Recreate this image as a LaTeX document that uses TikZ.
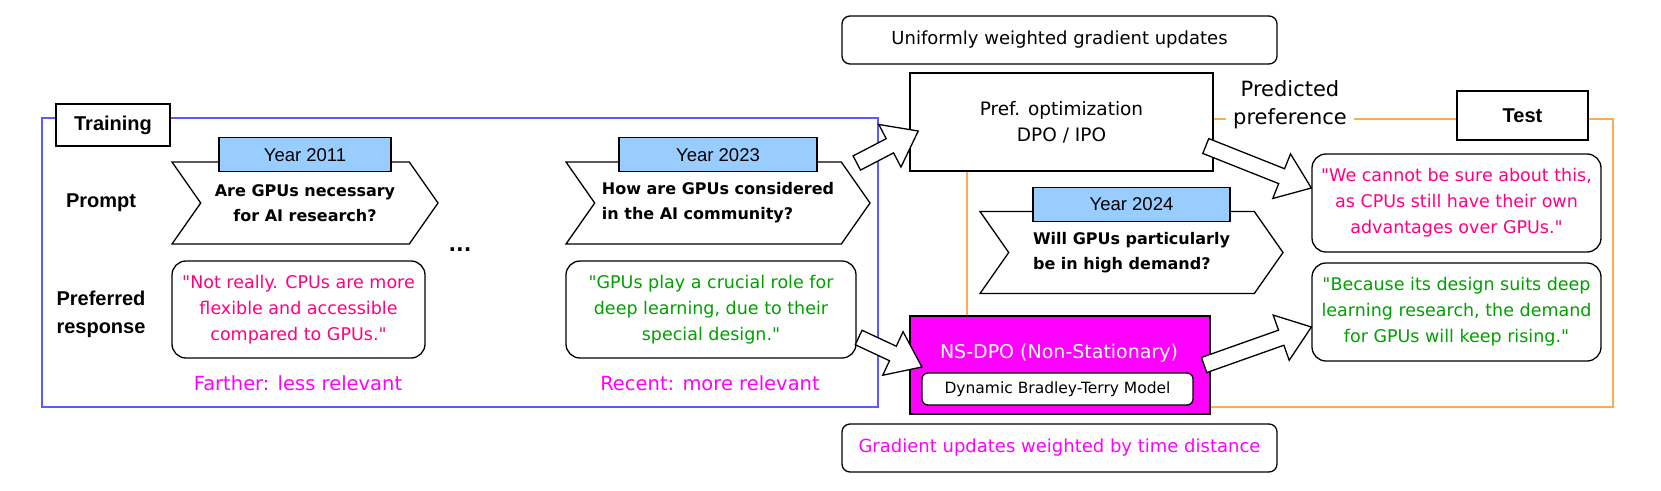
\documentclass[tikz,border=0pt]{standalone}
\usepackage{fontspec}
\setmainfont{DejaVu Sans}
\newfontfamily\headfont{Liberation Sans}
\usetikzlibrary{shapes.symbols,positioning,calc}
\definecolor{tagblue}{RGB}{153,204,255}
\definecolor{frameblue}{RGB}{90,90,255}
\definecolor{lineorange}{RGB}{255,170,80}
\definecolor{respink}{RGB}{255,0,128}
\definecolor{resgreen}{RGB}{0,160,0}
\definecolor{nsmagenta}{RGB}{255,0,255}
\tikzset{
  headtext/.style={font=\headfont\bfseries\fontsize{20}{28}\selectfont, align=center},
  headbox/.style={headtext, draw, fill=white, line width=1.3pt, inner sep=0pt},
  yeartag/.style={draw, fill=tagblue, line width=1.3pt, inner sep=0pt, minimum height=34pt,
    font=\headfont\fontsize{18.5}{22}\selectfont},
  chevron/.style={signal, signal from=west, signal to=east, signal pointer angle=110,
    draw, fill=white, line width=1.3pt, minimum height=82pt, inner xsep=3pt,
    font=\bfseries\fontsize{16}{25}\selectfont},
  answer/.style={draw, fill=white, rounded corners=14pt, line width=1.3pt, inner sep=0pt,
    minimum height=97pt, align=center, font=\fontsize{17.5}{26}\selectfont},
  plainbox/.style={draw, fill=white, line width=1.5pt, minimum width=303pt, minimum height=98pt,
    align=center, font=\fontsize{18.5}{26}\selectfont},
  notebox/.style={draw, fill=white, rounded corners=8pt, line width=1.3pt, minimum width=435pt,
    minimum height=48pt, font=\fontsize{18}{22}\selectfont},
  relevance/.style={text=nsmagenta, font=\fontsize{19.5}{24}\selectfont},
  hollow/.style={draw, fill=white, line width=1.3pt, line join=miter}
}
\newcommand{\qq}{\textquotedbl}
% block arrow from #1 to #2
\newcommand{\hollowarrow}[2]{%
  \coordinate (ha-b) at ($(#2)!32pt!(#1)$);
  \draw[hollow] ($(#1)!8pt!90:(#2)$) -- ($(ha-b)!8pt!90:(#2)$) -- ($(ha-b)!24pt!90:(#2)$)
    -- (#2) -- ($(ha-b)!24pt!-90:(#2)$) -- ($(ha-b)!8pt!-90:(#2)$) -- ($(#1)!8pt!-90:(#2)$) -- cycle;}
\begin{document}
\begin{tikzpicture}[x=1pt,y=-1pt]
\useasboundingbox (0,0) rectangle (1661,490);
% frames
\draw[frameblue, line width=1.5pt] (42,118) rectangle (878,407);
\draw[lineorange, line width=1.3pt] (967,119) rectangle (1613,407);

% training side
\node[headbox, minimum width=114pt, minimum height=42pt] (train) at (113,125) {Training};
\node[headtext] (prompt) at (101,203) {Prompt};
\node[headtext] (preferred) at (101,314) {Preferred\\response};

\node[chevron, minimum width=266pt, align=center] (c1) at (305,203) {Are GPUs necessary\\for AI research?};
\node[yeartag, minimum width=172pt, above=-11pt of c1] (y1) {Year 2011};
\node[answer, minimum width=253pt, text=respink] (r1) at (298.5,309.5)
  {\qq Not really. CPUs are more\\flexible and accessible\\compared to GPUs.\qq};
\node[relevance] (far) at (298,383) {Farther: less relevant};

\node[font=\bfseries\fontsize{20}{20}\selectfont] (dots) at (460,250) {...};

\node[chevron, minimum width=304pt, align=left] (c2) at (718,203) {How are GPUs considered\\in the AI community?};
\node[yeartag, minimum width=198pt, above=-11pt of c2] (y2) {Year 2023};
\node[answer, minimum width=290pt, text=resgreen] (r2) at (711,309.5)
  {\qq GPUs play a crucial role for\\deep learning, due to their\\special design.\qq};
\node[relevance] (recent) at (710,383) {Recent: more relevant};

% optimisation
\node[notebox] (unif) at (1059.5,40) {Uniformly weighted gradient updates};
\node[plainbox] (popt) at (1061.5,122) {Pref. optimization\\DPO / IPO};
\node[chevron, minimum width=303pt, align=left] (c3) at (1131.5,252.5) {Will GPUs particularly\\be in high demand?};
\node[yeartag, minimum width=197pt, above=-11pt of c3] (y3) {Year 2024};
\node[plainbox, fill=nsmagenta, line width=2.2pt, minimum width=300pt] (nsdpo) at (1060,365) {};
\node[text=white, font=\fontsize{19}{22}\selectfont] (nstitle) at (1059,353) {NS-DPO (Non-Stationary)};
\node[draw, fill=white, rounded corners=6pt, line width=1.3pt, minimum width=271pt, minimum height=32pt,
  font=\fontsize{15.5}{18}\selectfont] (dbt) at (1057.5,389) {Dynamic Bradley-Terry Model};
\node[notebox, text=nsmagenta] (grad) at (1059.5,448) {Gradient updates weighted by time distance};

% test side
\node[fill=white, align=center, inner sep=7pt, font=\fontsize{21}{28}\selectfont] (predlab) at (1290,105) {Predicted\\preference};
\node[headbox, minimum width=131pt, minimum height=49pt] (test) at (1522.5,115.5) {Test};
\node[answer, minimum width=289pt, minimum height=98pt, text=respink] (ansA) at (1456.5,203)
  {\qq We cannot be sure about this,\\as CPUs still have their own\\advantages over GPUs.\qq};
\node[answer, minimum width=289pt, minimum height=98pt, text=resgreen] (ansB) at (1456.5,312)
  {\qq Because its design suits deep\\learning research, the demand\\for GPUs will keep rising.\qq};

% block arrows
\coordinate (a1s) at ([shift={(-14pt,40pt)}]c2.east);
\coordinate (a1e) at ([shift={(9pt,-9pt)}]popt.west);
\coordinate (a2s) at ([shift={(2pt,-28pt)}]r2.east);
\coordinate (a2e) at ([shift={(13pt,-2pt)}]nsdpo.west);
\coordinate (a3s) at ([shift={(-8pt,-24pt)}]popt.east);
\coordinate (a3e) at ([yshift=15pt]ansA.west);
\coordinate (a4s) at ([xshift=-7pt]nsdpo.east);
\coordinate (a4e) at ([yshift=-15pt]ansB.west);
\hollowarrow{a1s}{a1e}
\hollowarrow{a2s}{a2e}
\hollowarrow{a3s}{a3e}
\hollowarrow{a4s}{a4e}
\end{tikzpicture}
\end{document}
